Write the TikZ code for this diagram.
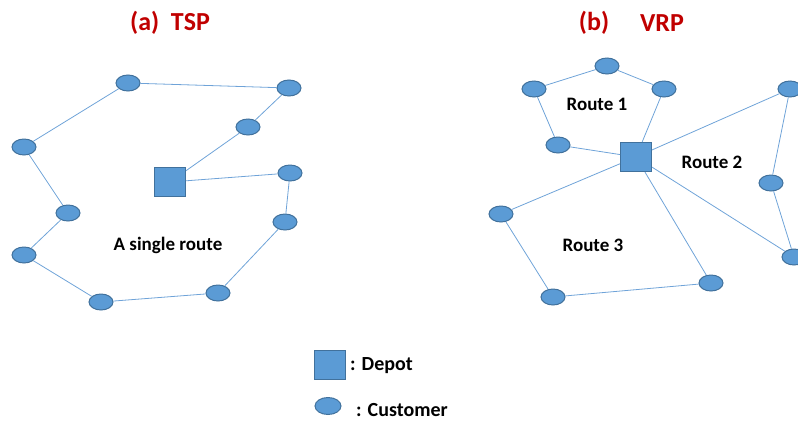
\documentclass[tikz,border=0pt]{standalone}
\usepackage{fontspec}
\setmainfont{Carlito}
\usetikzlibrary{shapes.geometric}
\definecolor{nodefill}{HTML}{5B9BD5}
\definecolor{nodeline}{HTML}{41719C}
\definecolor{edgecol}{HTML}{6FA3D8}
\definecolor{titlered}{HTML}{C00000}
\tikzset{
  cust/.style={ellipse, draw=nodeline, fill=nodefill, line width=1pt, minimum width=24pt, minimum height=16pt, inner sep=0pt},
  depot/.style={rectangle, draw=nodeline, fill=nodefill, line width=1pt, minimum width=31pt, minimum height=29pt, inner sep=0pt},
  edge/.style={draw=edgecol, line width=0.8pt},
  lbl/.style={font=\bfseries\fontsize{19}{22}\selectfont, inner sep=0pt},
  leg/.style={font=\bfseries\fontsize{20}{24}\selectfont, inner sep=0pt},
  ttl/.style={font=\bfseries\fontsize{26}{30}\selectfont, text=titlered, inner sep=0pt}
}
\begin{document}
\begin{tikzpicture}[x=1pt,y=-1pt]
\useasboundingbox (0,0) rectangle (798,421);
% titles
\node[ttl] (ta) at (170,23) {(a)\ \ TSP};
\node[ttl] (tb1) at (594,23) {(b)};
\node[ttl] (tb2) at (662,23) {VRP};
% left panel
\node[cust] (c1) at (128,83) {};
\node[cust] (c2) at (289,88) {};
\node[cust] (c3) at (248,127) {};
\node[cust] (c4) at (24,147) {};
\node[depot] (d1) at (170,182) {};
\node[cust] (c5) at (290,173) {};
\node[cust] (c6) at (68,213) {};
\node[cust] (c7) at (285,222) {};
\node[cust] (c8) at (24,255) {};
\node[cust] (c9) at (218,293) {};
\node[cust] (c10) at (101,302) {};
\node[lbl] (single) at (168,245) {A single route};
\draw[edge] (c4) -- (c1) -- (c2) -- (c3) -- (d1) -- (c5) -- (c7) -- (c9) -- (c10) -- (c8) -- (c6) -- (c4);
% right panel
\node[cust] (r1) at (607,66) {};
\node[cust] (r2) at (534,89) {};
\node[cust] (r3) at (664,89) {};
\node[cust] (r4) at (558,145) {};
\node[depot] (d2) at (636,157) {};
\node[cust] (r5) at (790,89) {};
\node[cust] (r6) at (771,183) {};
\node[cust] (r7) at (794,257) {};
\node[cust] (r8) at (501,214) {};
\node[cust] (r9) at (711,283) {};
\node[cust] (r10) at (553,297) {};
\node[lbl] (rt1) at (597,104) {Route 1};
\node[lbl] (rt2) at (712,162) {Route 2};
\node[lbl] (rt3) at (593,245) {Route 3};
\draw[edge] (r2) -- (r1) -- (r3) -- (d2) -- (r4) -- (r2);
\draw[edge] (d2) -- (r5) -- (r6) -- (r7) -- (d2);
\draw[edge] (d2) -- (r8) -- (r10) -- (r9) -- (d2);
% legend
\node[depot] (ld) at (330,365) {};
\node[leg, anchor=west] (ldt) at (350,366) {: Depot};
\node[cust, minimum width=26pt, minimum height=17pt] (lc) at (328,406) {};
\node[leg, anchor=west] (lct) at (356,410) {: Customer};
\end{tikzpicture}
\end{document}
